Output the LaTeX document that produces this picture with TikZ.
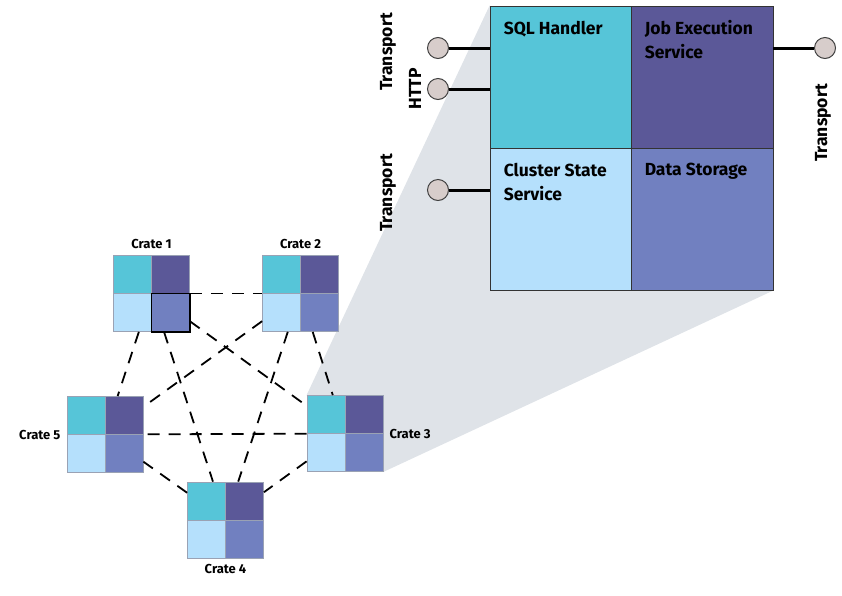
\documentclass[tikz,border=0pt]{standalone}
\usepackage{fontspec}
\setmainfont{Fira Sans}
\usetikzlibrary{positioning,backgrounds}

\definecolor{sqlcol}{HTML}{56C5D8}
\definecolor{jobcol}{HTML}{5B5898}
\definecolor{clustercol}{HTML}{B5E0FC}
\definecolor{datacol}{HTML}{7180C0}
\definecolor{fancol}{HTML}{DFE3E8}
\definecolor{edgecol}{HTML}{9AA2B4}
\definecolor{portcol}{HTML}{D7CDCB}

\tikzset{
	crate/.style={rectangle, draw=edgecol, line width=0.8pt, minimum size=76pt, inner sep=0pt,
		path picture={
			\fill[sqlcol] (path picture bounding box.north west) rectangle (path picture bounding box.center);
			\fill[jobcol] (path picture bounding box.north east) rectangle (path picture bounding box.center);
			\fill[clustercol] (path picture bounding box.south west) rectangle (path picture bounding box.center);
			\fill[datacol] (path picture bounding box.south east) rectangle (path picture bounding box.center);
			\draw[edgecol, line width=0.8pt] (path picture bounding box.north) -- (path picture bounding box.south)
				(path picture bounding box.west) -- (path picture bounding box.east);
		}},
	cratelabel/.style={font=\bfseries\fontsize{13}{15}\selectfont, inner sep=6pt},
	cell/.style={rectangle, draw=black!80, line width=0.9pt, minimum size=142pt, inner sep=0pt},
	celltext/.style={anchor=north west, align=left, inner sep=0pt, font=\bfseries\fontsize{17.5}{24}\selectfont},
	port/.style={circle, draw=black!75, line width=1pt, fill=portcol, minimum size=21pt, inner sep=0pt},
	wire/.style={line width=3pt},
	portlabel/.style={rotate=90, font=\bfseries\fontsize{17.5}{20}\selectfont},
	link/.style={dash pattern=on 12pt off 9pt, line width=1.8pt}
}

\begin{document}
\begin{tikzpicture}[x=1pt, y=-1pt]
	\useasboundingbox (0,0) rectangle (842,595);

	% the five crates
	\node[crate, label={[cratelabel]above:Crate 1}] (c1) at (151.5,293.5) {};
	\node[crate, label={[cratelabel]above:Crate 2}] (c2) at (300.5,293.5) {};
	\node[crate, label={[cratelabel]right:Crate 3}] (c3) at (345,433.5) {};
	\node[crate, label={[cratelabel]below:Crate 4}] (c4) at (225.5,520) {};
	\node[crate, label={[cratelabel]left:Crate 5}] (c5) at (105,434.5) {};
	\draw[line width=1.2pt] (c1.center) rectangle (c1.south east);

	\foreach \a/\b in {1/2,1/3,1/4,1/5,2/3,2/4,2/5,3/4,3/5,4/5}
		\draw[link] (c\a) -- (c\b);

	% one crate in detail
	\node[cell, fill=sqlcol] (sql) at (561,77) {};
	\node[cell, fill=jobcol] (job) at (702,77) {};
	\node[cell, fill=clustercol] (cluster) at (561,219) {};
	\node[cell, fill=datacol] (data) at (702,219) {};
	\node[celltext] at ([xshift=14pt, yshift=-15pt]sql.north west) {SQL Handler};
	\node[celltext] at ([xshift=14pt, yshift=-15pt]job.north west) {Job Execution\\Service};
	\node[celltext] at ([xshift=14pt, yshift=-15pt]cluster.north west) {Cluster State\\Service};
	\node[celltext] at ([xshift=14pt, yshift=-15pt]data.north west) {Data Storage};

	\begin{scope}[on background layer]
		\fill[fancol] (c3.north west) -- (sql.north west) -- (data.south east) -- (c3.south east) -- cycle;
	\end{scope}

	% ports
	\node[port] (p1) at (438,48) {};
	\node[port] (p2) at (438,89) {};
	\node[port] (p3) at (438,190) {};
	\node[port] (p4) at (825,48) {};
	\draw[wire] (p1) -- (p1 -| sql.west);
	\draw[wire] (p2) -- (p2 -| sql.west);
	\draw[wire] (p3) -- (p3 -| cluster.west);
	\draw[wire] (p4) -- (p4 -| job.east);

	\node[portlabel] at (388,52) {Transport};
	\node[portlabel] at (415,89) {HTTP};
	\node[portlabel] at (388,193) {Transport};
	\node[portlabel] at (823,123) {Transport};
\end{tikzpicture}
\end{document}
